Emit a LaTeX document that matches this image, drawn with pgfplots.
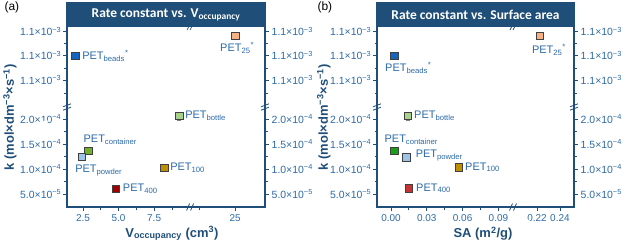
\documentclass[border=0pt]{standalone}
\usepackage{pgfplots}
\pgfplotsset{compat=1.18}
\usepackage{fontspec}
\setmainfont{Liberation Sans}
\newfontfamily\titlefont{Carlito}
\definecolor{axiscol}{HTML}{1F4E79}
\definecolor{tickcol}{HTML}{2C6AA8}
\definecolor{cbeads}{HTML}{1565C0}
\definecolor{cpet25}{HTML}{F4B183}
\definecolor{cbottle}{HTML}{A9D18E}
\definecolor{ccontA}{HTML}{72B02A}
\definecolor{ccontB}{HTML}{1A9E1A}
\definecolor{cpowder}{HTML}{9DC3E6}
\definecolor{cpet100}{HTML}{BF8F00}
\definecolor{cpet400A}{HTML}{A50000}
\definecolor{cpet400B}{HTML}{C83232}
\tikzset{lab/.style={text=tickcol, font=\fontsize{11}{12}\selectfont, inner sep=1bp}}
\pgfplotsset{
  common/.style={
    scale only axis, height=204bp, ymin=2.4, ymax=43.2, clip=false,
    axis line style={axiscol, line width=1.1bp},
    tick style={axiscol, line width=0.8bp},
    tick align=outside, major tick length=4bp, minor tick length=2.5bp,
    ytick={5,10,15,20,27.8,32.7,37.5},
    yticklabels={5.0×10\textsuperscript{−5},1.0×10\textsuperscript{−4},1.5×10\textsuperscript{−4},2.0×10\textsuperscript{−4},1.1×10\textsuperscript{−3},1.1×10\textsuperscript{−3},1.1×10\textsuperscript{−3}},
    minor ytick={7.5,12.5,17.5,25.2,30.2,35.2},
    yticklabel style={font=\fontsize{10.5}{11}\selectfont, text=tickcol, inner sep=1.5bp},
    xticklabel style={font=\fontsize{10}{11}\selectfont, text=tickcol},
  },
  pt/.style={only marks, mark=square*, mark size=3.8pt, mark options={fill=#1, draw=black!75, line width=0.7bp}},
}
\newcommand\ybrk[2]{%
  \draw[white, line width=2.5bp] (axis cs:#1,#2) ++(0,-1.8bp) -- ++(0,3.6bp);
  \draw[axiscol, line width=0.8bp] (axis cs:#1,#2) ++(-4bp,-3.2bp) -- ++(8bp,3bp);
  \draw[axiscol, line width=0.8bp] (axis cs:#1,#2) ++(-4bp,0.2bp) -- ++(8bp,3bp);}
\newcommand\xbrk[2]{%
  \draw[white, line width=2.5bp] (axis cs:#1,#2) ++(-1.8bp,0) -- ++(3.6bp,0);
  \draw[axiscol, line width=0.8bp] (axis cs:#1,#2) ++(-3.5bp,-3.5bp) -- ++(3bp,7bp);
  \draw[axiscol, line width=0.8bp] (axis cs:#1,#2) ++(0.5bp,-3.5bp) -- ++(3bp,7bp);}
\begin{document}
\begin{tikzpicture}
\path[use as bounding box] (0,0) rectangle (628bp,245bp);
\node[anchor=west, font=\fontsize{12}{13}\selectfont] at (1bp,238bp) {(a)};
\node[anchor=west, font=\fontsize{12}{13}\selectfont] at (314bp,238bp) {(b)};
% ---------- panel (a) ----------
\begin{axis}[common, at={(67bp,38bp)}, anchor=south west, width=198bp,
  xmin=1.37, xmax=15.3, xtick pos=left, ytick pos=left,
  xtick={2.5,5,7.5,13.2}, xticklabels={2.5,5.0,7.5,25},
  minor xtick={3.75,6.25,8.75,10.67},
  xlabel={V\textsubscript{occupancy} (cm\textsuperscript{3})},
  ylabel={k (mol×dm\textsuperscript{−3}×s\textsuperscript{−1})},
  xlabel style={font=\bfseries\fontsize{13}{14}\selectfont, text=axiscol, at={(axis description cs:0.53,-0.13)}, anchor=center},
  ylabel style={font=\bfseries\fontsize{13}{14}\selectfont, text=axiscol, at={(axis description cs:-0.288,0.44)}, anchor=center},
]
\addplot[pt=cbeads] coordinates {(1.94,32.6)};
\addplot[pt=cpet25] coordinates {(13.2,36.6)};
\addplot[pt=cbottle, error bars/.cd, y dir=both, y explicit, error bar style={gray, line width=0.8bp}, error mark options={gray, rotate=90, mark size=2pt}] coordinates {(9.26,20.6) +- (0,0.8)};
\addplot[pt=cbottle] coordinates {(9.26,20.6)};
\addplot[pt=ccontA] coordinates {(2.87,13.66)};
\addplot[pt=cpowder] coordinates {(2.41,12.46)};
\addplot[pt=cpet100] coordinates {(8.2,10.26)};
\addplot[pt=cpet400A] coordinates {(4.8,6.0)};
\node[lab, anchor=west, xshift=6bp] at (axis cs:1.94,32.6) {PET\textsubscript{beads}\textsuperscript{*}};
\node[lab, anchor=north, xshift=2bp, yshift=-5.5bp] at (axis cs:13.2,36.6) {PET\textsubscript{25}\textsuperscript{*}};
\node[lab, anchor=west, xshift=5bp] at (axis cs:9.26,20.6) {PET\textsubscript{bottle}};
\node[lab, xshift=22bp, yshift=11bp] at (axis cs:2.87,13.66) {PET\textsubscript{container}};
\node[lab, xshift=17bp, yshift=-14bp] at (axis cs:2.41,12.46) {PET\textsubscript{powder}};
\node[lab, anchor=west, xshift=5bp] at (axis cs:8.2,10.26) {PET\textsubscript{100}};
\node[lab, anchor=west, xshift=6bp] at (axis cs:4.8,6.0) {PET\textsubscript{400}};
\fill[axiscol] (rel axis cs:0,0.882) rectangle (rel axis cs:1,1);
\node[text=white, font=\titlefont\bfseries\fontsize{13.5}{14}\selectfont] at (rel axis cs:0.5,0.941) {Rate constant vs. V\textsubscript{occupancy}};
\ybrk{1.37}{22.4}
\ybrk{15.3}{22.4}
\xbrk{10.03}{2.4}
\draw[axiscol, line width=0.7bp] (axis cs:10.03,38.4) ++(-3bp,-3bp) -- ++(2bp,4bp);
\draw[axiscol, line width=0.7bp] (axis cs:10.03,38.4) ++(0bp,-3bp) -- ++(2bp,4bp);
\end{axis}
\begin{axis}[common, at={(67bp,38bp)}, anchor=south west, width=198bp,
  xmin=1.37, xmax=15.3, axis x line=none, axis y line*=right,
  ytick pos=right, yticklabel pos=right, yticklabel style={xshift=1bp}]
\end{axis}
% ---------- panel (b) ----------
\begin{axis}[common, at={(377bp,38bp)}, anchor=south west, width=197bp,
  xmin=-0.0117, xmax=0.1533, xtick pos=left, ytick pos=left,
  xtick={0,0.03,0.06,0.09,0.1223,0.1415}, xticklabels={0.00,0.03,0.06,0.09,0.22,0.24},
  minor xtick={0.015,0.045,0.075},
  xlabel={SA (m\textsuperscript{2}/g)},
  ylabel={k (mol×dm\textsuperscript{−3}×s\textsuperscript{−1})},
  xlabel style={font=\bfseries\fontsize{13}{14}\selectfont, text=axiscol, at={(axis description cs:0.538,-0.13)}, anchor=center},
  ylabel style={font=\bfseries\fontsize{13}{14}\selectfont, text=axiscol, at={(axis description cs:-0.27,0.44)}, anchor=center},
]
\addplot[pt=cbeads] coordinates {(0.0028,32.6)};
\addplot[pt=cpet25] coordinates {(0.1248,36.6)};
\addplot[pt=cbottle, error bars/.cd, y dir=both, y explicit, error bar style={gray, line width=0.8bp}, error mark options={gray, rotate=90, mark size=2pt}] coordinates {(0.0143,20.6) +- (0,0.8)};
\addplot[pt=cbottle] coordinates {(0.0143,20.6)};
\addplot[pt=ccontB] coordinates {(0.0028,13.66)};
\addplot[pt=cpowder] coordinates {(0.0131,12.34)};
\addplot[pt=cpet100] coordinates {(0.0570,10.34)};
\addplot[pt=cpet400B] coordinates {(0.0151,6.14)};
\node[lab, xshift=14bp, yshift=-12bp] at (axis cs:0.0028,32.6) {PET\textsubscript{beads}\textsuperscript{*}};
\node[lab, xshift=9bp, yshift=-14bp] at (axis cs:0.1248,36.6) {PET\textsubscript{25}\textsuperscript{*}};
\node[lab, anchor=west, xshift=5bp] at (axis cs:0.0143,20.6) {PET\textsubscript{bottle}};
\node[lab, xshift=17bp, yshift=11bp] at (axis cs:0.0028,13.66) {PET\textsubscript{container}};
\node[lab, anchor=west, xshift=8bp, yshift=1.5bp] at (axis cs:0.0131,12.34) {PET\textsubscript{powder}};
\node[lab, anchor=west, xshift=5bp] at (axis cs:0.0570,10.34) {PET\textsubscript{100}};
\node[lab, anchor=west, xshift=6bp] at (axis cs:0.0151,6.14) {PET\textsubscript{400}};
\fill[axiscol] (rel axis cs:0,0.882) rectangle (rel axis cs:1,1);
\node[text=white, font=\titlefont\bfseries\fontsize{13.5}{14}\selectfont] at (rel axis cs:0.5,0.941) {Rate constant vs. Surface area};
\ybrk{-0.0117}{22.4}
\ybrk{0.1533}{22.4}
\xbrk{0.1022}{2.4}
\draw[axiscol, line width=0.7bp] (axis cs:0.1022,38.4) ++(-3bp,-3bp) -- ++(2bp,4bp);
\draw[axiscol, line width=0.7bp] (axis cs:0.1022,38.4) ++(0bp,-3bp) -- ++(2bp,4bp);
\end{axis}
\begin{axis}[common, at={(377bp,38bp)}, anchor=south west, width=197bp,
  xmin=-0.0117, xmax=0.1533, axis x line=none, axis y line*=right,
  ytick pos=right, yticklabel pos=right, yticklabel style={xshift=1bp}]
\end{axis}
\end{tikzpicture}
\end{document}
